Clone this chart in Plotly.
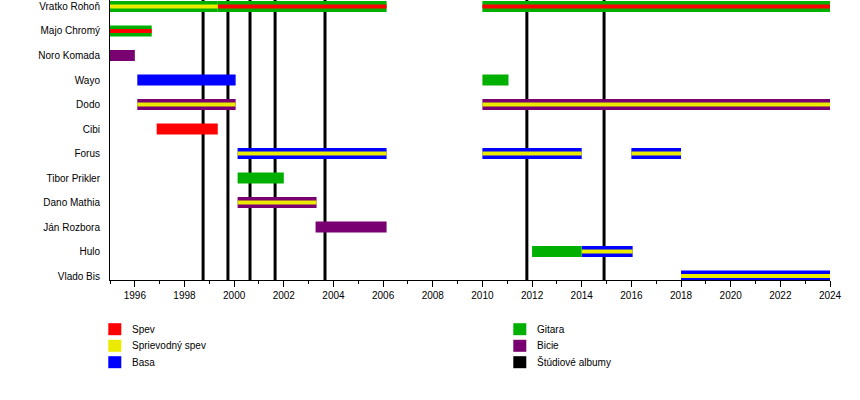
import plotly.graph_objects as go

# ---------------- data ----------------
members = ["Vratko Rohoň", "Majo Chromý", "Noro Komada", "Wayo", "Dodo", "Cibi",
           "Forus", "Tibor Prikler", "Dano Mathia", "Ján Rozbora", "Hulo", "Vlado Bis"]

roles = ["Spev", "Sprievodný spev", "Basa", "Gitara", "Bicie", "Štúdiové albumy"]
role_colors = ["#FF0000", "#EBEB00", "#0000FF", "#00B000", "#780070", "#000000"]

# one entry per bar segment
seg_member = ["Vratko Rohoň", "Vratko Rohoň", "Vratko Rohoň",
              "Majo Chromý", "Noro Komada", "Wayo", "Wayo",
              "Dodo", "Dodo", "Cibi",
              "Forus", "Forus", "Forus",
              "Tibor Prikler", "Dano Mathia", "Ján Rozbora",
              "Hulo", "Hulo", "Vlado Bis"]
seg_start = [1995.0, 1999.34, 2010.0,
             1995.0, 1995.0, 1996.1, 2010.0,
             1996.1, 2010.0, 1996.88,
             2000.14, 2010.0, 2016.0,
             2000.14, 2000.14, 2003.28,
             2012.0, 2014.0, 2018.0]
seg_end = [1999.34, 2006.14, 2024.0,
           1996.68, 1996.0, 2000.06, 2011.05,
           2000.06, 2024.0, 1999.34,
           2006.14, 2014.0, 2018.0,
           2002.0, 2003.32, 2006.14,
           2014.0, 2016.05, 2024.0]
seg_outer = ["Gitara", "Gitara", "Gitara",
             "Gitara", "Bicie", "Basa", "Gitara",
             "Bicie", "Bicie", "Spev",
             "Basa", "Basa", "Basa",
             "Gitara", "Bicie", "Bicie",
             "Gitara", "Basa", "Basa"]
seg_inner = ["Sprievodný spev", "Spev", "Spev",
             "Spev", "", "", "",
             "Sprievodný spev", "Sprievodný spev", "",
             "Sprievodný spev", "Sprievodný spev", "Sprievodný spev",
             "", "Sprievodný spev", "",
             "", "Sprievodný spev", "Sprievodný spev"]

album_years = [1998.75, 1999.75, 2000.64, 2001.65, 2003.66, 2011.79, 2014.9]

# ---------------- figure ----------------
FONT = "Liberation Sans, Arial, sans-serif"
color_of = dict(zip(roles, role_colors))
row_of = {m: i for i, m in enumerate(members)}

fig = go.Figure()

OUTER_W = 0.449
INNER_W = 0.165

for role in roles:
    idx = [i for i, r in enumerate(seg_outer) if r == role]
    if not idx:
        continue
    fig.add_trace(go.Bar(
        orientation="h",
        y=[row_of[seg_member[i]] for i in idx],
        base=[seg_start[i] for i in idx],
        x=[seg_end[i] - seg_start[i] for i in idx],
        width=OUTER_W,
        marker=dict(color=color_of[role], line=dict(width=0)),
        name=role, showlegend=False, hoverinfo="skip"))

for role in roles:
    idx = [i for i, r in enumerate(seg_inner) if r == role]
    if not idx:
        continue
    fig.add_trace(go.Bar(
        orientation="h",
        y=[row_of[seg_member[i]] for i in idx],
        base=[seg_start[i] for i in idx],
        x=[seg_end[i] - seg_start[i] for i in idx],
        width=INNER_W,
        marker=dict(color=color_of[role], line=dict(width=0)),
        name=role, showlegend=False, hoverinfo="skip"))

# album lines (below bars)
shapes = []
for yr in album_years:
    shapes.append(dict(type="line", xref="x", yref="paper", x0=yr, x1=yr, y0=0, y1=1,
                       line=dict(color="black", width=3), layer="below"))

# manual legend (two columns)
W, H = 860, 400
L, R, T, B = 110, 30, 0, 120
PW, PH = W - L - R, H - T - B


def px(x):
    return (x - L) / PW


def py(y):
    return (H - B - y) / PH


annotations = []
col_x = [108.3, 513.3]
row_y = [329.2, 345.8, 362.2]
for k, role in enumerate(roles):
    c, r = divmod(k, 3)
    x0 = col_x[c]
    yc = row_y[r]
    shapes.append(dict(type="rect", xref="paper", yref="paper",
                       x0=px(x0), x1=px(x0 + 13), y0=py(yc - 6), y1=py(yc + 6),
                       fillcolor=color_of[role], line=dict(width=0)))
    annotations.append(dict(xref="paper", yref="paper", x=px(x0 + 22), y=py(yc),
                            xanchor="left", yanchor="middle", showarrow=False,
                            text=role, font=dict(family=FONT, size=10, color="black")))

fig.update_layout(
    width=W, height=H,
    margin=dict(l=L, r=R, t=T, b=B, pad=0),
    paper_bgcolor="white", plot_bgcolor="white",
    barmode="overlay",
    shapes=shapes, annotations=annotations,
    showlegend=False,
    font=dict(family=FONT, size=10, color="black"),
    xaxis=dict(range=[1995, 2024], tick0=1996, dtick=2, ticks="outside", ticklen=6,
               tickcolor="black", tickwidth=1, showline=True, linecolor="black", linewidth=1,
               showgrid=False, zeroline=False,
               tickfont=dict(family=FONT, size=10, color="black"),
               minor=dict(tick0=1995, dtick=1, ticks="outside", ticklen=3,
                          tickcolor="black", showgrid=False)),
    yaxis=dict(range=[11.163, -0.265], tickvals=list(range(len(members))), ticktext=members,
               ticks="", showline=True, linecolor="black", linewidth=1,
               showgrid=False, zeroline=False, ticklabelstandoff=7,
               tickfont=dict(family=FONT, size=10, color="black")),
)

fig.write_html("out.html")
